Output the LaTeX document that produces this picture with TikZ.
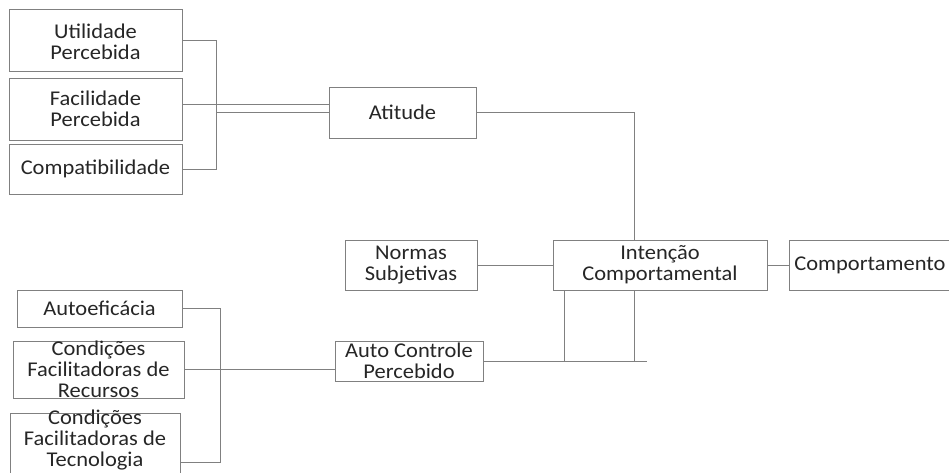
\documentclass[tikz,border=0pt]{standalone}
\usepackage{fontspec}
\setmainfont{Carlito}[FakeStretch=1.07]
\usetikzlibrary{calc}

\definecolor{linegray}{RGB}{128,128,128}
\definecolor{textgray}{RGB}{38,38,38}

\begin{document}
\begin{tikzpicture}[
    x=1pt, y=-1pt, % pixel-like units, y grows downwards
    box/.style={draw=linegray, line width=0.9pt, inner sep=0pt}, % frame only
    txt/.style={align=center, inner sep=0pt, text=textgray,
        font=\fontsize{21}{21}\selectfont}, % text inside a frame
    link/.style={draw=linegray, line width=0.9pt}
]
\useasboundingbox (0,0) rectangle (949,472);

% Boxes of the upper group
\node[box, minimum width=173, minimum height=62] (util) at (95.5,40) {};
\node[txt] (utilT) at ($(util)+(0,2)$) {Utilidade\\Percebida};
\node[box, minimum width=173, minimum height=62] (facil) at (95.5,109) {};
\node[txt] (facilT) at (facil) {Facilidade\\Percebida};
\node[box, minimum width=173, minimum height=50] (compat) at (95.5,169) {};
\node[txt] (compatT) at (compat) {Compatibilidade};

% Middle column
\node[box, minimum width=147, minimum height=51] (atitude) at (402.5,112.5) {};
\node[txt] (atitudeT) at (atitude) {Atitude};
\node[box, minimum width=132, minimum height=50] (normas) at (411,265) {};
\node[txt] (normasT) at (normas) {Normas\\Subjetivas};
\node[box, minimum width=148, minimum height=40] (autoctrl) at (409,361) {};
\node[txt] (autoctrlT) at (autoctrl) {Auto Controle\\Percebido};

% Right part
\node[box, minimum width=214, minimum height=50] (intencao) at (660,265) {};
\node[txt] (intencaoT) at (intencao) {Intenção\\Comportamental};
\node[box, minimum width=166, minimum height=50] (comport) at (872,265) {};
\node[txt] (comportT) at ($(comport)+(-2,0)$) {Comportamento};

% Boxes of the lower group
\node[box, minimum width=165, minimum height=37] (autoef) at (99.5,308.5) {};
\node[txt] (autoefT) at (autoef) {Autoeficácia};
\node[box, minimum width=171, minimum height=57] (recursos) at (98.5,369.5) {};
\node[txt] (recursosT) at (recursos) {Condições\\Facilitadoras de\\Recursos};
\node[box, minimum width=170, minimum height=62] (tecnol) at (95,444) {};
\node[txt] (tecnolT) at ($(tecnol)+(0,-4)$) {Condições\\Facilitadoras de\\Tecnologia};

% Upper bracket
\coordinate (tb) at (216,112);
\path[link] (util.east) -| (tb);
\path[link] (compat.east) -| (tb);
\path[link] ([yshift=5pt]facil.east) -- ([yshift=5pt]facil.east -| atitude.west);
\path[link] (tb) -- (tb -| atitude.west);

% Into Intencao
\path[link] (atitude.east) -| ([xshift=-26pt]intencao.north);
\path[link] (normas) -- (intencao);
\path[link] (intencao) -- (comport);

% Auto Controle line and its two risers
\coordinate (acEnd) at (647,361);
\path[link] (autoctrl.east) -- (acEnd);
\path[link] ([xshift=-96pt]intencao.south) -- ([xshift=-96pt]intencao.south |- acEnd);
\path[link] ([xshift=-26pt]intencao.south) -- ([xshift=-26pt]intencao.south |- acEnd);

% Lower bracket
\coordinate (bb) at (220,370);
\path[link] (autoef.east) -| (bb);
\path[link] ([yshift=-18pt]tecnol.east) -| (bb);
\path[link] (recursos.east) -- (recursos.east -| autoctrl.west);

\end{tikzpicture}
\end{document}
